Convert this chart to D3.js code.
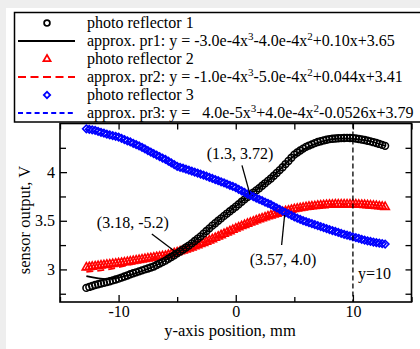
<!DOCTYPE html>
<html>
<head>
<meta charset="utf-8">
<script src="https://cdn.jsdelivr.net/npm/d3@7"></script>
<style>
  html, body { margin: 0; padding: 0; background: #fff; }
  svg { display: block; }
</style>
</head>
<body>
<svg id="chart" width="420" height="349"></svg>
<script>
// ========= data =========
// measurement positions, mm
const positions = [
    -12.75, -12.5, -12.25, -12, -11.75, -11.5, -11.25, -11, -10.75, -10.5, -10.25, -10,
    -9.75, -9.5, -9.25, -9, -8.75, -8.5, -8.25, -8, -7.75, -7.5, -7.25, -7,
    -6.75, -6.5, -6.25, -6, -5.75, -5.5, -5.25, -5, -4.75, -4.5, -4.25, -4,
    -3.75, -3.5, -3.25, -3, -2.75, -2.5, -2.25, -2, -1.75, -1.5, -1.25, -1,
    -0.75, -0.5, -0.25, 0, 0.25, 0.5, 0.75, 1, 1.25, 1.5, 1.75, 2,
    2.25, 2.5, 2.75, 3, 3.25, 3.5, 3.75, 4, 4.25, 4.5, 4.75, 5,
    5.25, 5.5, 5.75, 6, 6.25, 6.5, 6.75, 7, 7.25, 7.5, 7.75, 8,
    8.25, 8.5, 8.75, 9, 9.25, 9.5, 9.75, 10, 10.25, 10.5, 10.75, 11,
    11.25, 11.5, 11.75, 12, 12.25, 12.5, 12.75
];

// photo reflector 1 (V)
const pr1 = [
    2.81, 2.82, 2.83, 2.84, 2.848, 2.855, 2.862, 2.87, 2.878, 2.887, 2.896, 2.905,
    2.916, 2.927, 2.938, 2.95, 2.96, 2.97, 2.98, 2.99, 3.0, 3.01, 3.02, 3.03,
    3.045, 3.06, 3.075, 3.09, 3.109, 3.128, 3.146, 3.165, 3.185, 3.205, 3.225, 3.245,
    3.268, 3.292, 3.316, 3.34, 3.368, 3.395, 3.422, 3.45, 3.475, 3.5, 3.525, 3.55,
    3.574, 3.598, 3.621, 3.645, 3.67, 3.695, 3.72, 3.745, 3.767, 3.79, 3.812, 3.835,
    3.86, 3.885, 3.91, 3.935, 3.963, 3.992, 4.021, 4.05, 4.083, 4.115, 4.148, 4.18,
    4.202, 4.222, 4.242, 4.26, 4.273, 4.285, 4.298, 4.31, 4.318, 4.326, 4.333, 4.34,
    4.343, 4.346, 4.348, 4.35, 4.351, 4.352, 4.351, 4.35, 4.346, 4.341, 4.335, 4.33,
    4.323, 4.316, 4.308, 4.3, 4.29, 4.28, 4.27
];

// photo reflector 2 (V)
const pr2 = [
    3.02, 3.024, 3.028, 3.032, 3.036, 3.04, 3.044, 3.048, 3.052, 3.056, 3.06, 3.064,
    3.068, 3.072, 3.077, 3.082, 3.087, 3.092, 3.097, 3.102, 3.107, 3.112, 3.117, 3.122,
    3.127, 3.131, 3.136, 3.14, 3.149, 3.157, 3.166, 3.175, 3.185, 3.195, 3.205, 3.215,
    3.226, 3.237, 3.249, 3.26, 3.272, 3.285, 3.297, 3.31, 3.324, 3.338, 3.351, 3.365,
    3.379, 3.392, 3.406, 3.42, 3.432, 3.445, 3.457, 3.47, 3.481, 3.492, 3.504, 3.515,
    3.525, 3.535, 3.545, 3.555, 3.564, 3.572, 3.581, 3.59, 3.598, 3.605, 3.613, 3.62,
    3.625, 3.63, 3.635, 3.64, 3.644, 3.648, 3.651, 3.655, 3.658, 3.66, 3.663, 3.665,
    3.666, 3.667, 3.667, 3.668, 3.668, 3.668, 3.668, 3.668, 3.667, 3.665, 3.664, 3.662,
    3.66, 3.657, 3.655, 3.652, 3.649, 3.645, 3.642
];

// photo reflector 3 (V)
const pr3 = [
    4.445, 4.44, 4.435, 4.43, 4.42, 4.41, 4.4, 4.39, 4.382, 4.375, 4.368, 4.36,
    4.348, 4.335, 4.322, 4.31, 4.296, 4.283, 4.269, 4.255, 4.239, 4.222, 4.206, 4.19,
    4.175, 4.16, 4.145, 4.13, 4.112, 4.095, 4.078, 4.06, 4.05, 4.04, 4.03, 4.02,
    4.01, 4.0, 3.99, 3.98, 3.969, 3.958, 3.946, 3.935, 3.924, 3.912, 3.901, 3.89,
    3.878, 3.865, 3.853, 3.84, 3.824, 3.808, 3.791, 3.775, 3.761, 3.748, 3.734, 3.72,
    3.706, 3.692, 3.679, 3.665, 3.649, 3.632, 3.616, 3.6, 3.585, 3.57, 3.555, 3.54,
    3.527, 3.515, 3.502, 3.49, 3.48, 3.47, 3.46, 3.45, 3.44, 3.43, 3.42, 3.41,
    3.4, 3.39, 3.38, 3.37, 3.361, 3.352, 3.344, 3.335, 3.326, 3.318, 3.309, 3.3,
    3.294, 3.288, 3.281, 3.275, 3.27, 3.265, 3.26
];

// approximation curves, read at a few positions (mostly hidden under the markers)
const fitPositions = [-12.75, -11, -9, -7, -5, -3, -1, 1, 3, 5, 7, 9, 11, 12.75];
const fit1 = [2.93, 2.90, 2.945, 3.03, 3.165, 3.34, 3.55, 3.745, 3.935, 4.17, 4.30, 4.345, 4.33, 4.27];
const fit2 = [2.975, 2.999, 3.05, 3.115, 3.178, 3.262, 3.366, 3.467, 3.553, 3.618, 3.653, 3.667, 3.665, 3.645];
const fit3 = [4.443, 4.385, 4.305, 4.185, 4.06, 3.975, 3.885, 3.77, 3.66, 3.542, 3.452, 3.372, 3.302, 3.262];

const legendLabels = [
    "photo reflector 1",
    "approx. pr1: y = -3.0e-4x^3-4.0e-4x^2+0.10x+3.65",
    "photo reflector 2",
    "approx. pr2: y = -1.0e-4x^3-5.0e-4x^2+0.044x+3.41",
    "photo reflector 3",
    "approx. pr3: y =   4.0e-5x^3+4.0e-4x^2-0.0526x+3.79"
];

const xMajor = [-10, 0, 10];
const xMinor = [-15, -5, 5, 15];
const yMajor = [3, 3.5, 4];
const yMinor = [2.75, 3.25, 3.75, 4.25];

const annotLabels = ["(1.3, 3.72)", "(3.18, -5.2)", "(3.57, 4.0)"];
const annotPoints = [[1.3, 3.72], [-5.2, 3.18], [4.0, 3.57]];
const markerLine = 10;

// ========= svg =========
const FONT = '"Liberation Serif", "Times New Roman", Times, serif';
const svg = d3.select("#chart")
    .attr("font-family", FONT);
const width = +svg.attr("width");
const height = +svg.attr("height");

const margin = { top: 123.5, right: 8.5, bottom: 47, left: 60 };
const innerW = width - margin.left - margin.right;
const innerH = height - margin.top - margin.bottom;

// page frame (grey strip top / left)
svg.append("rect").attr("width", width).attr("height", height).attr("fill", "#fff");
svg.append("rect").attr("width", width).attr("height", 8).attr("fill", "#eeeeee");
svg.append("rect").attr("width", 6).attr("height", height).attr("fill", "#eeeeee");

const g = svg.append("g")
    .attr("transform", `translate(${margin.left},${margin.top})`);

const x = d3.scaleLinear().domain([-15, 15]).range([0, innerW]);
const y = d3.scaleLinear().domain([2.665, 4.5]).range([innerH, 0]);

// ========= axes (inward ticks) =========
function styleAxis(sel) {
    sel.select(".domain").remove();
    sel.attr("font-family", FONT).attr("font-size", 16);
    sel.selectAll("line").attr("stroke", "#000").attr("stroke-width", 1.3);
    sel.selectAll("text").attr("fill", "#000");
}

g.append("g")
    .attr("transform", `translate(0,${innerH})`)
    .call(d3.axisBottom(x).tickValues(xMajor).tickSizeInner(-7).tickSizeOuter(0)
        .tickPadding(4).tickFormat(d => String(d)))
    .call(styleAxis);
g.append("g")
    .attr("transform", `translate(0,${innerH})`)
    .call(d3.axisBottom(x).tickValues(xMinor).tickSizeInner(-5).tickSizeOuter(0).tickFormat(""))
    .call(styleAxis);
g.append("g")
    .call(d3.axisTop(x).tickValues(xMajor.concat(xMinor)).tickSizeInner(-6).tickSizeOuter(0).tickFormat(""))
    .call(styleAxis);

g.append("g")
    .call(d3.axisLeft(y).tickValues(yMajor).tickSizeInner(-7).tickSizeOuter(0)
        .tickPadding(5).tickFormat(d => String(d)))
    .call(styleAxis);
g.append("g")
    .call(d3.axisLeft(y).tickValues(yMinor).tickSizeInner(-6).tickSizeOuter(0).tickFormat(""))
    .call(styleAxis);
g.append("g")
    .attr("transform", `translate(${innerW},0)`)
    .call(d3.axisRight(y).tickValues(yMajor.concat(yMinor)).tickSizeInner(-6).tickSizeOuter(0).tickFormat(""))
    .call(styleAxis);

// frame
g.append("rect")
    .attr("width", innerW)
    .attr("height", innerH)
    .attr("fill", "none")
    .attr("stroke", "#000")
    .attr("stroke-width", 1.6);

svg.append("text")
    .attr("x", 230)
    .attr("y", 336)
    .attr("text-anchor", "middle")
    .attr("font-size", 16.5)
    .attr("fill", "#000")
    .text("y-axis position, mm");

svg.append("text")
    .attr("transform", "translate(30,220) rotate(-90)")
    .attr("text-anchor", "middle")
    .attr("font-size", 16.5)
    .attr("fill", "#000")
    .text("sensor output, V");

// ========= series =========
const symbolPath = {
    circle: d3.symbol(d3.symbolCircle, 36)(),
    triangle: d3.symbol(d3.symbolTriangle, 30)(),
    diamond: d3.symbol(d3.symbolSquare, 28)()
};

const series = [
    { values: pr2, fit: fit2, color: "#ff0000", symbol: "triangle", rotate: 0, dash: "7,4" },
    { values: pr1, fit: fit1, color: "#000000", symbol: "circle", rotate: 0, dash: null },
    { values: pr3, fit: fit3, color: "#0000ff", symbol: "diamond", rotate: 45, dash: "4,3" }
];

const fitLine = d3.line()
    .x(d => x(d[0]))
    .y(d => y(d[1]))
    .curve(d3.curveMonotoneX);

series.forEach(s => {
    g.append("path")
        .datum(fitPositions.map((p, i) => [p, s.fit[i]]))
        .attr("d", fitLine)
        .attr("fill", "none")
        .attr("stroke", s.color)
        .attr("stroke-width", 1.8)
        .attr("stroke-dasharray", s.dash);

    const pts = positions.map((p, i) => [p, s.values[i]]);
    g.append("g")
        .selectAll("path")
        .data(pts)
        .join("path")
        .attr("d", symbolPath[s.symbol])
        .attr("transform", d => `translate(${x(d[0])},${y(d[1])}) rotate(${s.rotate})`)
        .attr("fill", "none")
        .attr("stroke", s.color)
        .attr("stroke-width", 1.6);
});

// ========= y=10 marker =========
g.append("line")
    .attr("x1", x(markerLine)).attr("x2", x(markerLine))
    .attr("y1", 0).attr("y2", innerH)
    .attr("stroke", "#000")
    .attr("stroke-width", 1.3)
    .attr("stroke-dasharray", "5,3");

g.append("text")
    .attr("x", x(markerLine) + 5)
    .attr("y", 278.5 - margin.top)
    .attr("font-size", 16)
    .attr("fill", "#000")
    .text(`y=${markerLine}`);

// ========= annotations =========
const annotLayout = [
    { from: [-9, -34], to: [-1, -5], text: [-11, -40] },
    { from: [-23, -18], to: [3.5, 2], text: [-42, -24] },
    { from: [2, 1], to: [-1, 31], text: [0.5, 51] }
];

annotPoints.forEach((p, i) => {
    const px = x(p[0]), py = y(p[1]);
    const L = annotLayout[i];
    g.append("line")
        .attr("x1", px + L.from[0]).attr("y1", py + L.from[1])
        .attr("x2", px + L.to[0]).attr("y2", py + L.to[1])
        .attr("stroke", "#000")
        .attr("stroke-width", 1.3);
    g.append("text")
        .attr("x", px + L.text[0])
        .attr("y", py + L.text[1])
        .attr("text-anchor", "middle")
        .attr("font-size", 16)
        .attr("fill", "#000")
        .text(annotLabels[i]);
});

// ========= legend =========
const legend = svg.append("g").attr("class", "legend");

legend.append("rect")
    .attr("x", 14.5)
    .attr("y", 12.5)
    .attr("width", 430)
    .attr("height", 109.5)
    .attr("fill", "#fff")
    .attr("stroke", "#000")
    .attr("stroke-width", 1.5);

const rowY = i => 28.3 + i * 18;
const legendSwatch = [
    { kind: "symbol", s: series[1] },
    { kind: "line", s: series[1], dash: null },
    { kind: "symbol", s: series[0] },
    { kind: "line", s: series[0], dash: "8,4.5" },
    { kind: "symbol", s: series[2] },
    { kind: "line", s: series[2], dash: "5,3.3" }
];

legendSwatch.forEach((sw, i) => {
    const cy = rowY(i) - 5.3;
    if (sw.kind === "symbol") {
        legend.append("path")
            .attr("d", symbolPath[sw.s.symbol])
            .attr("transform", `translate(47,${cy}) rotate(${sw.s.rotate}) scale(0.85)`)
            .attr("fill", "#fff")
            .attr("stroke", sw.s.color)
            .attr("stroke-width", 2.1);
    } else {
        legend.append("line")
            .attr("x1", 18).attr("x2", 75)
            .attr("y1", cy).attr("y2", cy)
            .attr("stroke", sw.s.color)
            .attr("stroke-width", 2.2)
            .attr("stroke-dasharray", sw.dash);
    }
});

legendLabels.forEach((lab, i) => {
    const t = legend.append("text")
        .attr("x", 87)
        .attr("y", rowY(i))
        .attr("font-size", 16)
        .attr("fill", "#000")
        .attr("xml:space", "preserve")
        .style("white-space", "pre");
    const parts = lab.split(/\^(\d)/);
    parts.forEach((p, k) => {
        if (k % 2 === 1) {
            t.append("tspan").attr("dy", -6).attr("font-size", 11).text(p);
        } else {
            t.append("tspan").attr("dy", k === 0 ? 0 : 6).text(p);
        }
    });
});
</script>
</body>
</html>
